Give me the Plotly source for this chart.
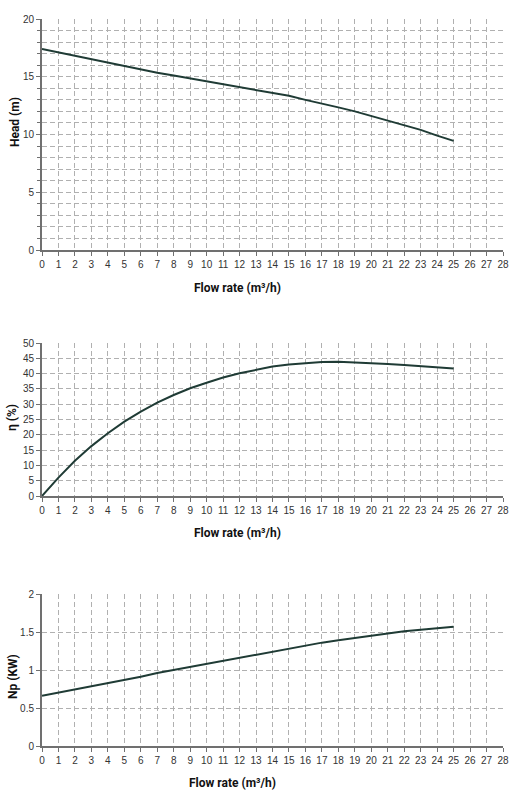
import plotly.graph_objects as go

flow = list(range(0, 26))
head = [17.4, 17.1, 16.8, 16.5, 16.2, 15.9, 15.6, 15.35, 15.1, 14.85, 14.6, 14.35, 14.1,
        13.85, 13.6, 13.35, 13.0, 12.7, 12.35, 12.0, 11.6, 11.2, 10.8, 10.4, 9.9, 9.45]
eff = [0, 6, 11.5, 16.3, 20.5, 24.3, 27.6, 30.5, 33.0, 35.2, 37.0, 38.7, 40.1,
       41.3, 42.3, 43.0, 43.5, 43.8, 43.9, 43.7, 43.4, 43.1, 42.8, 42.5, 42.1, 41.7]
power = [0.66, 0.70, 0.74, 0.78, 0.83, 0.87, 0.91, 0.96, 1.0, 1.04, 1.08, 1.12, 1.16,
         1.20, 1.24, 1.28, 1.32, 1.36, 1.39, 1.42, 1.45, 1.48, 1.51, 1.53, 1.55, 1.57]
y_titles = ["Head (m)", "η (%)", "Np (KW)"]
x_title = "Flow rate (m³/h)"

line_col = "#1f3b35"
grid_col = "#b0b0b0"
axis_col = "#707070"
tick_font = dict(family="Liberation Sans, Arial", size=10, color="#333")
title_font = dict(family="Roboto, Arial", size=12, color="#111")

W, H = 519, 800
xdom = [42 / W, 503 / W]
ydoms = [[1 - 250 / H, 1 - 19 / H],
         [1 - 496 / H, 1 - 343 / H],
         [1 - 746 / H, 1 - 594 / H]]
# pixel centres of the titles in each panel
xt_pos = [(237, 288), (237, 533), (232, 783)]
yt_pos = [(15, 122), (12, 418), (13, 677)]

fig = go.Figure()
series = [head, eff, power]
for i, s in enumerate(series):
    sfx = "" if i == 0 else str(i + 1)
    fig.add_trace(go.Scatter(x=flow, y=s, mode="lines", line=dict(color=line_col, width=2),
                             xaxis="x" + sfx, yaxis="y" + sfx, showlegend=False))


def xax(anchor):
    return dict(domain=xdom, anchor=anchor, range=[0, 28], dtick=1, tick0=0,
                showgrid=True, gridcolor=grid_col, griddash="5px,3px", gridwidth=1,
                showline=True, linecolor=axis_col, linewidth=2,
                ticks="outside", ticklen=4, tickcolor=axis_col, tickfont=tick_font,
                zeroline=False, automargin=False)


def yax(anchor, dom, rng, dtick, minor=None):
    d = dict(domain=dom, anchor=anchor, range=rng, dtick=dtick, tick0=0,
             showgrid=True, gridcolor=grid_col, griddash="5px,3px", gridwidth=1,
             showline=True, linecolor=axis_col, linewidth=2,
             ticks="outside", ticklen=4, tickcolor=axis_col, tickfont=tick_font,
             zeroline=False, automargin=False)
    if minor:
        d["minor"] = dict(dtick=minor, showgrid=True, gridcolor=grid_col, griddash="5px,3px",
                          ticks="outside", ticklen=3, tickcolor=axis_col)
    return d


annotations = []
for (px, py) in xt_pos:
    annotations.append(dict(text="<b>" + x_title + "</b>", x=px / W, y=1 - py / H,
                            xref="paper", yref="paper", showarrow=False, font=title_font,
                            xanchor="center", yanchor="middle"))
for t, (px, py) in zip(y_titles, yt_pos):
    annotations.append(dict(text="<b>" + t + "</b>", x=px / W, y=1 - py / H,
                            xref="paper", yref="paper", showarrow=False, font=title_font,
                            textangle=-90, xanchor="center", yanchor="middle"))

fig.update_layout(
    width=W, height=H,
    margin=dict(l=0, r=0, t=0, b=0),
    paper_bgcolor="white", plot_bgcolor="white",
    xaxis=xax("y"),
    yaxis=yax("x", ydoms[0], [0, 20], 5, minor=1),
    xaxis2=xax("y2"),
    yaxis2=yax("x2", ydoms[1], [0, 50], 5),
    xaxis3=xax("y3"),
    yaxis3=yax("x3", ydoms[2], [0, 2], 0.5),
    annotations=annotations,
)

# page body has a default 8px margin, drop it so the figure sits at 0,0
fig.write_html("out.html", config={"displayModeBar": False},
               post_script="document.body.style.margin='0';document.body.style.overflow='hidden';")
